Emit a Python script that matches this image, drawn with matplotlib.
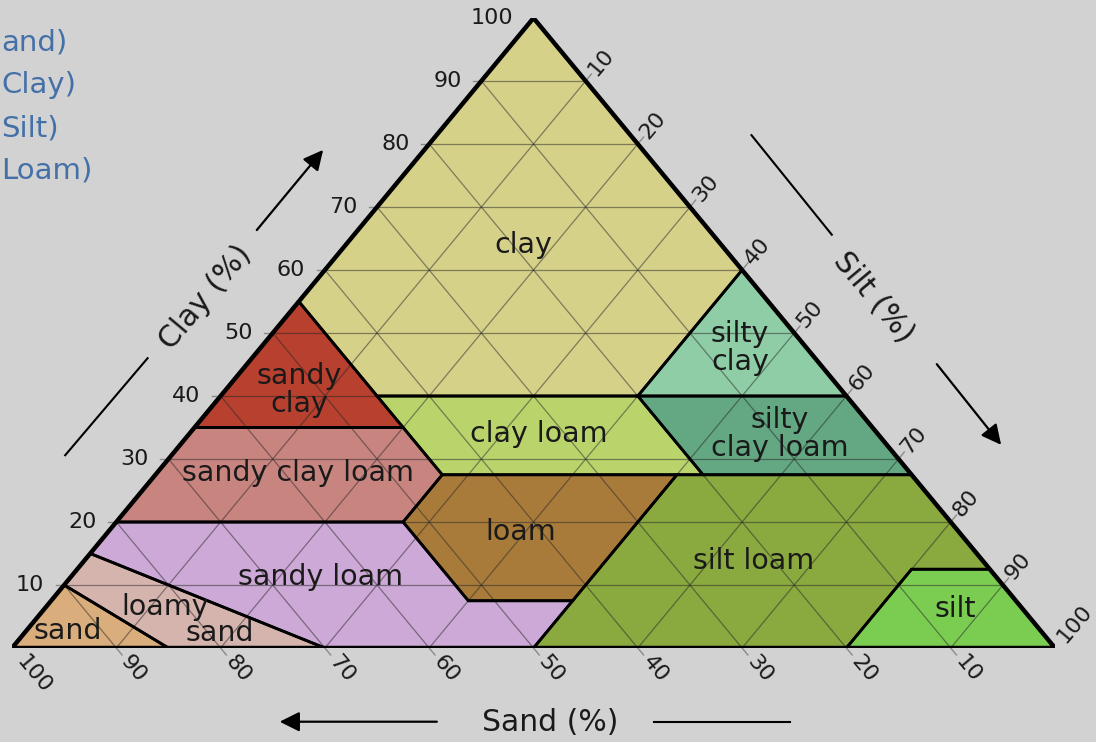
import matplotlib.pyplot as plt
from matplotlib.patches import Polygon

# USDA soil texture classes, vertices given as (sand %, clay %); silt = 100 - sand - clay
clay = [(0, 100), (0, 60), (20, 40), (45, 40), (45, 55)]
sandy_clay = [(45, 55), (45, 35), (65, 35)]
silty_clay = [(0, 60), (0, 40), (20, 40)]
silty_clay_loam = [(0, 40), (0, 27.5), (20, 27.5), (20, 40)]
clay_loam = [(20, 40), (20, 27.5), (45, 27.5), (45, 40)]
sandy_clay_loam = [(65, 35), (45, 35), (45, 27.5), (52.5, 20), (80, 20)]
loam = [(45, 27.5), (22.5, 27.5), (42.5, 7.5), (52.5, 7.5), (52.5, 20)]
silt_loam = [(22.5, 27.5), (0, 27.5), (0, 12.5), (7.5, 12.5), (20, 0), (50, 0), (42.5, 7.5)]
silt = [(0, 12.5), (7.5, 12.5), (20, 0), (0, 0)]
sandy_loam = [(80, 20), (52.5, 20), (52.5, 7.5), (42.5, 7.5), (50, 0), (70, 0), (85, 15)]
loamy_sand = [(85, 15), (70, 0), (85, 0), (90, 10)]
sand = [(90, 10), (85, 0), (100, 0)]

classes = [
    (clay, "#d5d189"),
    (sandy_clay, "#b7402f"),
    (silty_clay, "#8fcda7"),
    (silty_clay_loam, "#63a883"),
    (clay_loam, "#bad46c"),
    (sandy_clay_loam, "#c8847f"),
    (loam, "#a97b3b"),
    (silt_loam, "#8aa93f"),
    (silt, "#7bcd52"),
    (sandy_loam, "#cca9d6"),
    (loamy_sand, "#d6b4ae"),
    (sand, "#d9ad7c"),
]

# class labels: text, (sand, clay) of label centre
labels = [
    ("clay", 19, 64),
    ("sandy\nclay", 52, 41),
    ("silty\nclay", 6.4, 47.6),
    ("clay loam", 32.5, 34),
    ("silty\nclay loam", 9.4, 34),
    ("sandy clay loam", 58.7, 27.8),
    ("loam", 42, 18.4),
    ("silt loam", 22, 13.8),
    ("sandy loam", 64.8, 11.3),
    ("loamy", 82.1, 6.5),
    ("sand", 78.9, 2.4),
    ("sand", 93.3, 2.7),
    ("silt", 6.5, 6.2),
]

grid_vals = [10, 20, 30, 40, 50, 60, 70, 80, 90]
tick_labels = [10, 20, 30, 40, 50, 60, 70, 80, 90, 100]

# pixel size of one data unit (axes spans 1043 x 630 px)
PX_X = 10.43
PX_Y = 6.30


def to_xy(s, c):
    return 100 - s - c / 2.0, c


def px(dx, dy):
    # pixel offset (right, up) -> data offset
    return dx / PX_X, dy / PX_Y


fig = plt.figure(figsize=(10.96, 7.42), dpi=100)
fig.patch.set_facecolor("#d2d2d2")
ax = fig.add_axes([12 / 1096, 94 / 742, 1043 / 1096, 630 / 742])
ax.set_xlim(0, 100)
ax.set_ylim(0, 100)
ax.axis("off")

for pts, col in classes:
    xy = [to_xy(s, c) for s, c in pts]
    ax.add_patch(Polygon(xy, closed=True, facecolor=col, edgecolor="none", zorder=1))

# grid lines
gkw = dict(color="#262626", lw=0.9, alpha=0.5, zorder=2)
for v in grid_vals:
    ax.plot([v / 2, 100 - v / 2], [v, v], **gkw)                  # clay
    ax.plot([100 - v, (100 - v) / 2], [0, 100 - v], **gkw)        # sand
    ax.plot([v, 50 + v / 2], [0, 100 - v], **gkw)                  # silt

for pts, col in classes:
    xy = [to_xy(s, c) for s, c in pts]
    ax.add_patch(Polygon(xy, closed=True, facecolor="none", edgecolor="black",
                         lw=2, joinstyle="miter", zorder=3))

ax.add_patch(Polygon([(0, 0), (100, 0), (50, 100)], closed=True, facecolor="none",
                     edgecolor="black", lw=3.2, joinstyle="miter", zorder=4))

for txt, s, c in labels:
    x, y = to_xy(s, c)
    ax.text(x, y, txt, ha="center", va="center", fontsize=20.5, color="#1a1a1a",
            linespacing=1.0, zorder=5)

# ticks and tick labels
tkw = dict(color="#8a8a8a", lw=1, clip_on=False, zorder=0)
lkw = dict(fontsize=16, color="#1a1a1a", clip_on=False)
ux, uy = 0.637, 0.771
for v in tick_labels:
    # clay, left edge
    x, y = v / 2, v
    if v < 100:
        ax.plot([x, x - 0.8], [y, y], **tkw)
    ax.text(x - 1.9, y, str(v), ha="right", va="center", **lkw)
    # sand, bottom edge (value v at x = 100 - v)
    x, y = 100 - v, 0
    d1 = px(ux * 9, -uy * 9)
    d2 = px(ux * 13, -uy * 13)
    if v < 100:
        ax.plot([x, x + d1[0]], [y, y + d1[1]], **tkw)
    ax.text(x + d2[0], y + d2[1], str(v), ha="left", va="center", rotation=-50,
            rotation_mode="anchor", **lkw)
    # silt, right edge
    x, y = 50 + v / 2, 100 - v
    d1 = px(ux * 9, uy * 9)
    d2 = px(ux * 10, uy * 10)
    if v < 100:
        ax.plot([x, x + d1[0]], [y, y + d1[1]], **tkw)
    ax.text(x + d2[0], y + d2[1], str(v), ha="left", va="center", rotation=50,
            rotation_mode="anchor", **lkw)

# axis titles and arrows
akw = dict(arrowstyle="-|>", color="black", lw=1.6, mutation_scale=30)
lnkw = dict(color="black", lw=1.5, clip_on=False)
title_kw = dict(ha="center", va="center", fontsize=21.5, color="#1a1a1a", clip_on=False)

ax.text(18.5, 55.6, "Clay (%)", rotation=50, **title_kw)
ax.annotate("", xy=(30.0, 79.4), xytext=(23.3, 66.0), arrowprops=akw, annotation_clip=False)
ax.plot([5.1, 13.0], [30.6, 46.0], **lnkw)

ax.text(82.6, 55.7, "Silt (%)", rotation=-50, **title_kw)
ax.annotate("", xy=(95.0, 31.9), xytext=(88.5, 45.4), arrowprops=akw, annotation_clip=False)
ax.plot([70.9, 78.6], [81.4, 65.6], **lnkw)

ax.text(51.6, -11.9, "Sand (%)", **title_kw)
ax.annotate("", xy=(25.4, -11.7), xytext=(41.0, -11.7), arrowprops=akw, annotation_clip=False)
ax.plot([61.6, 74.6], [-11.7, -11.7], **lnkw)

# cropped slide text at top left
for yy, txt in zip([43, 85, 128, 170], ["and)", "Clay)", "Silt)", "Loam)"]):
    fig.text(0.001, 1 - yy / 742, txt, ha="left", va="center", fontsize=21,
             color="#4470a8")

fig.savefig("out.png", dpi=100, facecolor=fig.get_facecolor())
